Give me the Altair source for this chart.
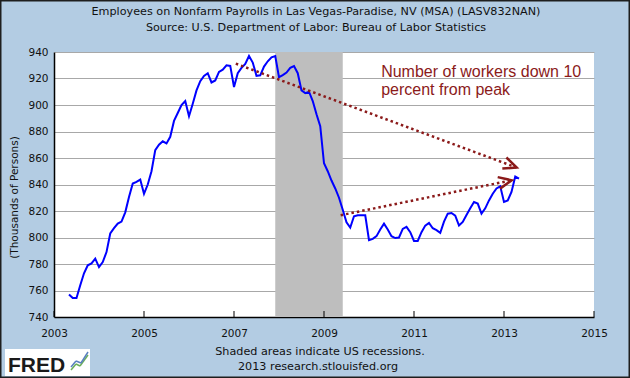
import math
import altair as alt
import pandas as pd

# ---------------- data ----------------
first_year, first_month = 2003, 5
payrolls = [
    757, 754.3, 754.3, 764, 773, 779, 780.5, 784,                      # 2003 May-Dec
    777.7, 781.5, 789, 803, 807, 810.5, 812, 819, 830.5, 840.7, 842, 843.7,  # 2004
    833, 840, 850, 866, 870, 872.6, 871, 876, 888, 894, 900, 903,      # 2005
    891.5, 901, 911, 918, 922, 924, 917, 918.5, 925, 926.7, 930, 929.5,  # 2006
    913.6, 924, 928, 931, 937, 932, 922, 922.4, 929, 933, 936, 937,    # 2007
    921, 922.5, 924.5, 928, 929.4, 924, 911, 909, 910, 903, 893, 884,  # 2008
    856, 850, 843, 837, 830, 821, 811.5, 807.5, 816, 816.8, 816.8, 816.8,  # 2009
    798, 799, 801, 806, 810.4, 806, 801, 799.6, 800, 806.5, 808, 804,  # 2010
    797.4, 797.4, 804, 809, 811, 807, 805.5, 803.5, 812, 818, 818.5, 816.5,  # 2011
    809, 811.7, 817, 822, 826.8, 825.6, 818, 822, 828, 833, 837, 838.6,  # 2012
    826.8, 828, 834.4, 846, 844.4,                                     # 2013 Jan-May
]
recession_start = [2007 + 11 / 12]
recession_end = [2009 + 5 / 12]
x_ticks = [2003, 2005, 2007, 2009, 2011, 2013, 2015]
y_ticks = [740, 760, 780, 800, 820, 840, 860, 880, 900, 920, 940]

arrow_x1 = [2007.04, 2009.37]
arrow_y1 = [931.2, 816.8]
arrow_x2 = [2013.28, 2013.17]
arrow_y2 = [852.8, 843.2]

note_lines = ["Number of workers down 10", "percent from peak"]
note_x = [2010.27, 2010.27]
note_y = [921.1, 907.3]

title_text = "Employees on Nonfarm Payrolls in Las Vegas-Paradise, NV (MSA) (LASV832NAN)"
source_text = "Source: U.S. Department of Labor: Bureau of Labor Statistics"
footer_lines = ["Shaded areas indicate US recessions.", "2013 research.stlouisfed.org"]
y_title = "(Thousands of Persons)"
logo_text = "FRED"

# ---------------- layout ----------------
W, H = 540, 265
FONT = "DejaVu Sans"
RED = "#8B1A1A"

years = [first_year + (first_month - 1 + k) / 12 for k in range(len(payrolls))]
series = pd.DataFrame({"year": years, "value": payrolls})

xs = alt.Scale(domain=[2003, 2015], nice=False, zero=False)
ys = alt.Scale(domain=[740, 940], nice=False, zero=False)

x_axis = alt.Axis(values=x_ticks, format="d", grid=False, ticks=False, labelFlush=False,
                  labelPadding=11, labelFontSize=10.5, labelColor="#111",
                  labelFont=FONT, domainColor="#000", domainWidth=1.5, title="")
y_axis = alt.Axis(values=y_ticks, grid=True, gridColor="#A8A8A8", gridWidth=1,
                  ticks=False, labelFlush=False, labelPadding=6, labelFontSize=10.5,
                  labelColor="#111", labelFont=FONT, domainColor="#000", domainWidth=1.5,
                  title=y_title, titleFont=FONT, titleFontSize=10.5,
                  titleFontWeight="normal", titleColor="#111", titleAngle=270,
                  titleAlign="center", titleBaseline="middle", titleX=-40, titleY=145)


def X(f):
    return alt.X(f, type="quantitative", scale=xs, axis=x_axis)


def Y(f):
    return alt.Y(f, type="quantitative", scale=ys, axis=y_axis)


line = alt.Chart(series).mark_line(color="#0000FF", strokeWidth=2).encode(
    x=X("year"), y=Y("value"))

rec = alt.Chart(pd.DataFrame({"s": recession_start, "e": recession_end})).mark_rect(
    color="#BEBEBE").encode(
    x=X("s"), x2="e:Q", y=alt.value(0), y2=alt.value(H))

xtick = alt.Chart(pd.DataFrame({"t": x_ticks})).mark_rule(color="#000", strokeWidth=1).encode(
    x=X("t"), y=alt.value(H), y2=alt.value(H - 6))

arrows = pd.DataFrame({"x1": arrow_x1, "y1": arrow_y1, "x2": arrow_x2, "y2": arrow_y2})
px_year = W / 12
px_unit = H / 200
arrows["ang"] = [
    math.degrees(math.atan2(-(b2 - b1) * px_unit, (a2 - a1) * px_year)) % 360
    for a1, b1, a2, b2 in zip(arrow_x1, arrow_y1, arrow_x2, arrow_y2)
]

arrow_lines = alt.Chart(arrows).mark_rule(
    color=RED, strokeWidth=2.5, strokeDash=[2.5, 3]).encode(
    x=X("x1"), y=Y("y1"), x2="x2:Q", y2="y2:Q")

arrow_heads = alt.Chart(arrows).mark_point(
    shape="M-1,-0.45L0,0L-1,0.45", filled=False, color=RED, strokeWidth=2.5,
    size=680, opacity=1).encode(
    x=X("x2"), y=Y("y2"), angle=alt.Angle("ang:Q", scale=None))

note = alt.Chart(pd.DataFrame({"t": note_lines, "x": note_x, "y": note_y})).mark_text(
    align="left", baseline="alphabetic", font="Liberation Sans", fontSize=16,
    color=RED).encode(x=X("x"), y=Y("y"), text="t:N")


def label(txt, x, y, size=11.2, **kw):
    return alt.Chart(pd.DataFrame({"t": [txt]})).mark_text(
        font=FONT, fontSize=size, color="#111", baseline="middle", **kw).encode(
        text="t:N", x=alt.value(x), y=alt.value(y))


title1 = label(title_text, 262, -40)
title2 = label(source_text, 262, -24)
foot1 = label(footer_lines[0], 266, 300)
foot2 = label(footer_lines[1], 264, 315)

border = alt.Chart(pd.DataFrame({"a": [0]})).mark_rect(
    fillOpacity=0, stroke="#1E1E1E", strokeWidth=1.5).encode(
    x=alt.value(-53.25), x2=alt.value(575.25), y=alt.value(-51.25), y2=alt.value(325.25))

logo_box = alt.Chart(pd.DataFrame({"a": [0]})).mark_rect(fill="white").encode(
    x=alt.value(-49), x2=alt.value(36), y=alt.value(297), y2=alt.value(324))
logo = alt.Chart(pd.DataFrame({"t": [logo_text]})).mark_text(
    font="Liberation Sans", fontSize=21, fontWeight="bold", color="#1A1A1A",
    align="left", baseline="alphabetic").encode(
    text="t:N", x=alt.value(-46), y=alt.value(320))

icon_segments = [
    ((17, 318), (22, 312), "#6BAF5A"), ((22, 312), (26, 314), "#6BAF5A"),
    ((26, 314), (34, 303), "#6BAF5A"),
    ((17, 315), (22, 309), "#5A7FC0"), ((22, 309), (27, 311), "#5A7FC0"),
    ((27, 311), (34, 300), "#5A7FC0"),
]
icons = [
    alt.Chart(pd.DataFrame({"a": [0]})).mark_rule(color=c, strokeWidth=1.5).encode(
        x=alt.value(p[0]), y=alt.value(p[1]), x2=alt.value(q[0]), y2=alt.value(q[1]))
    for p, q, c in icon_segments
]

chart = alt.layer(
    rec, line, xtick, arrow_lines, arrow_heads, note,
    title1, title2, foot1, foot2, border, logo_box, logo, *icons
).properties(
    width=W, height=H,
    autosize=alt.AutoSizeParams(type="none"),
    padding={"left": 54, "top": 52, "right": 36, "bottom": 61},
    background="#B3CCE3",
).configure_view(stroke=None, fill="white")

chart.save("out.html", embed_options={"renderer": "svg", "actions": False})
